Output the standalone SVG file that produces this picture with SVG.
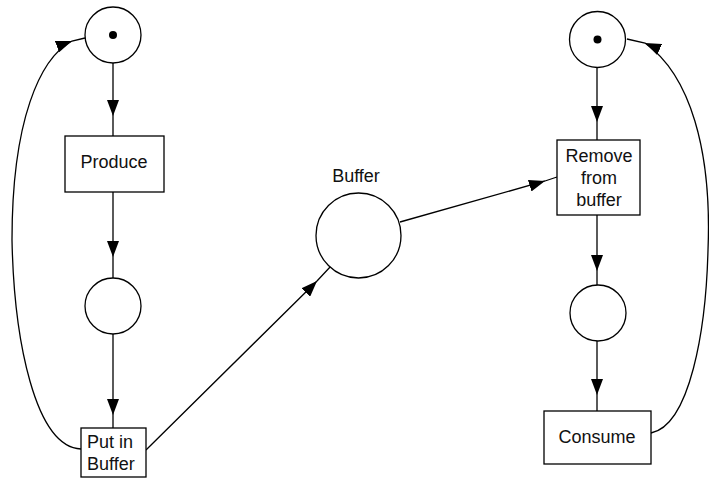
<svg xmlns="http://www.w3.org/2000/svg" width="709" height="478" viewBox="0 0 709 478">
<style>
.pl{fill:#fff;stroke:#000;stroke-width:1.3}
.tr{fill:#fff;stroke:#000;stroke-width:1.3}
.tok{fill:#000}
.t{font-family:"Liberation Sans",Arial,sans-serif;font-size:18px;fill:#111}
.c{text-anchor:middle}
.ln{fill:none;stroke:#000;stroke-width:1.3}
.arc{fill:none;stroke:#000;stroke-width:1.3;marker-mid:url(#ah)}
</style>
<defs>
<marker id="ah" viewBox="0 0 16 12" refX="16" refY="6" markerWidth="16" markerHeight="12" markerUnits="userSpaceOnUse" orient="auto">
<path d="M0,0 L16,6 L0,12 Z" fill="#000"/>
</marker>
</defs>
<g id="connectors">
<path class="arc" d="M113,63 L113,116 L113,136"/>
<path class="arc" d="M113,192 L113,257 L113,278"/>
<path class="arc" d="M113,334 L113,415 L113,428"/>
<path class="arc" d="M146,450 L317,281 L331,266"/>
<path class="arc" d="M400,222 L545,181 L557,177"/>
<path class="arc" d="M597,67 L597,122 L597,140"/>
<path class="arc" d="M597,215 L597,271 L597,285"/>
<path class="arc" d="M597,341 L597,395 L597,411"/>
<path class="ln" d="M81,449 C35,447 14,340 12,240"/>
<path class="arc" d="M12,240 C12,120 40,58 72,41 L85,38"/>
<path class="ln" d="M651,433 C690,425 706,330 708,250"/>
<path class="arc" d="M708,250 C712,150 690,75 645,43 L627,39"/>
</g>
<g id="p-producer-ready">
<circle class="pl" cx="113" cy="35" r="28"/>
<circle class="tok" cx="113" cy="35" r="4"/>
</g>
<g id="t-produce">
<rect class="tr" x="65" y="136" width="99" height="56"/>
<text class="t c" x="114" y="168">Produce</text>
</g>
<g id="p-produced">
<circle class="pl" cx="113" cy="306" r="28"/>
</g>
<g id="t-put">
<rect class="tr" x="81" y="428" width="65" height="49"/>
<text class="t" x="87" y="448">Put in</text>
<text class="t" x="87" y="470">Buffer</text>
</g>
<g id="p-buffer">
<circle class="pl" cx="358.5" cy="235.5" r="42.5"/>
<text class="t c" x="356" y="182">Buffer</text>
</g>
<g id="p-consumer-ready">
<circle class="pl" cx="597.5" cy="39.5" r="28"/>
<circle class="tok" cx="597.5" cy="39.5" r="4"/>
</g>
<g id="t-remove">
<rect class="tr" x="557" y="140" width="83" height="75"/>
<text class="t c" x="599" y="162">Remove</text>
<text class="t c" x="599" y="184">from</text>
<text class="t c" x="599" y="206">buffer</text>
</g>
<g id="p-removed">
<circle class="pl" cx="598" cy="313" r="28"/>
</g>
<g id="t-consume">
<rect class="tr" x="544" y="411" width="107" height="53"/>
<text class="t c" x="597" y="443">Consume</text>
</g>
</svg>
